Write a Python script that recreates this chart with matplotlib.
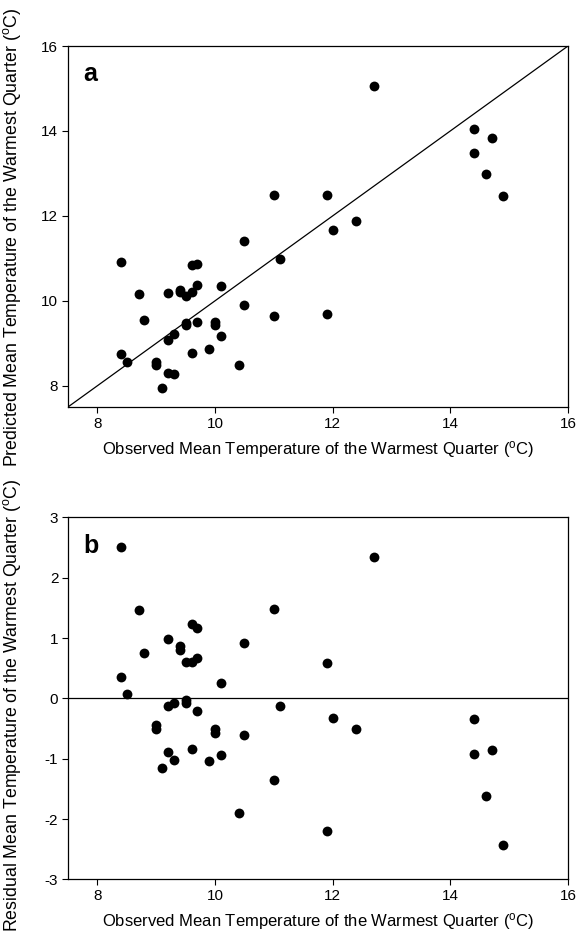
import numpy as np
import matplotlib
matplotlib.use("Agg")
import matplotlib.pyplot as plt

plt.rcParams["font.family"] = ["Liberation Sans", "DejaVu Sans"]
plt.rcParams["mathtext.default"] = "regular"
plt.rcParams["axes.unicode_minus"] = False

# Observed vs predicted mean temperature of the warmest quarter (deg C)
observed = [12.7, 14.4, 14.7, 14.4, 14.6, 14.9, 11.0, 11.9, 12.4, 12.0,
            10.5, 11.1, 8.4, 9.6, 9.7, 8.7, 9.2, 9.4, 9.4, 9.5,
            9.6, 9.7, 10.1, 10.5, 11.0, 11.9, 8.8, 9.5, 9.5, 9.7,
            10.0, 10.0, 10.1, 9.3, 9.2, 9.9, 9.6, 8.4, 8.5, 9.0,
            9.0, 10.4, 9.2, 9.3, 9.1]
predicted = [15.05, 14.05, 13.84, 13.48, 12.99, 12.47, 12.48, 12.48, 11.89, 11.67,
             11.42, 10.98, 10.91, 10.84, 10.86, 10.17, 10.19, 10.26, 10.2, 10.11,
             10.21, 10.37, 10.35, 9.89, 9.65, 9.7, 9.56, 9.48, 9.42, 9.49,
             9.49, 9.43, 9.16, 9.23, 9.08, 8.87, 8.76, 8.75, 8.57, 8.56,
             8.49, 8.5, 8.31, 8.28, 7.94]

obs = np.array(observed)
pred = np.array(predicted)
resid = pred - obs

xticks = [8, 10, 12, 14, 16]
yticks_a = [8, 10, 12, 14, 16]
yticks_b = [-3, -2, -1, 0, 1, 2, 3]

xlabel = "Observed Mean Temperature of the Warmest Quarter ($^{o}$C)"

fig = plt.figure(figsize=(5.87, 9.41), dpi=100)
ax1 = fig.add_axes([0.1158, 0.5675, 0.8518, 0.3836])
ax2 = fig.add_axes([0.1158, 0.0655, 0.8518, 0.3847])

for ax in (ax1, ax2):
    ax.set_xlim(7.5, 16)
    ax.set_xticks(xticks)
    ax.tick_params(direction="out", length=4, width=0.8, labelsize=11,
                   right=False, top=False, pad=3)
    ax.set_xlabel(xlabel, fontsize=12, labelpad=6)
    for s in ax.spines.values():
        s.set_linewidth(0.9)

# panel a
ax1.plot([7.5, 16], [7.5, 16], color="black", lw=0.9, zorder=1)
ax1.scatter(obs, pred, s=50, color="black", zorder=2, linewidths=0)
ax1.set_ylim(7.5, 16)
ax1.set_yticks(yticks_a)
ax1.set_ylabel("Predicted Mean Temperature of the Warmest Quarter ($^{o}$C)",
               fontsize=12.8)
ax1.yaxis.set_label_coords(-0.09, 0.47)
ax1.text(0.03, 0.955, "a", transform=ax1.transAxes, fontsize=18,
         fontweight="bold", va="top", ha="left")

# panel b
ax2.axhline(0, color="black", lw=0.9, zorder=1)
ax2.scatter(obs, resid, s=50, color="black", zorder=2, linewidths=0)
ax2.set_ylim(-3, 3)
ax2.set_yticks(yticks_b)
ax2.set_ylabel("Residual Mean Temperature of the Warmest Quarter ($^{o}$C)",
               fontsize=12.8)
ax2.yaxis.set_label_coords(-0.09, 0.48)
ax2.text(0.03, 0.955, "b", transform=ax2.transAxes, fontsize=18,
         fontweight="bold", va="top", ha="left")

fig.savefig("out.png", dpi=100)
